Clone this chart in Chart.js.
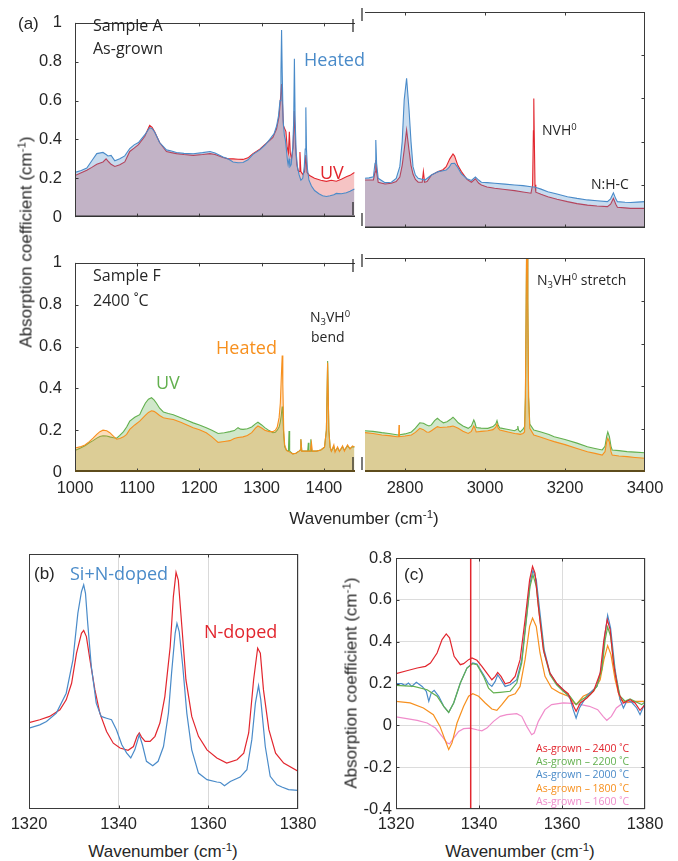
<!DOCTYPE html>
<html><head><meta charset="utf-8">
<script src="https://cdn.jsdelivr.net/npm/chart.js@4.4.1/dist/chart.umd.min.js"></script>
<style>
html,body{margin:0;padding:0;background:#fff}
body{width:678px;height:861px;position:relative;overflow:hidden;font-family:"Liberation Sans",Arial,sans-serif;color:#262626}
canvas{position:absolute}
.t{position:absolute;white-space:nowrap;line-height:1;transform:translateY(-50%)}
.c{transform:translate(-50%,-50%)}
.o{font-family:"Open Sans","Noto Sans",sans-serif}
.sup{font-size:0.68em;position:relative;top:-0.5em}
.sub{font-size:0.68em;position:relative;top:0.3em}
.rot{transform:translate(-50%,-50%) rotate(-90deg)}
</style></head><body>
<script>
// ---------------- tick values ----------------
const xTicksLow = [1000, 1100, 1200, 1300, 1400];
const xTicksHigh = [2800, 3000, 3200, 3400];
const yTicksA = [0, 0.2, 0.4, 0.6, 0.8, 1];
const xTicksBC = [1320, 1340, 1360, 1380];
const yTicksC = [-0.4, -0.2, 0, 0.2, 0.4, 0.6, 0.8];

// ---------------- (a) Sample A, 1000-1450 ----------------
const aLowHeatedWn = [1000,1010,1019,1027,1035,1045,1050,1053,1058,1064,1072,1080,1088,1095,1102,1112,1120,1124,1128,1136,1147,1155,1163,1175,1190,1205,1217,1225,1238,1246,1254,1262,1270,1278,1286,1297,1305,1313,1320,1324,1327,1329.5,1331,1332,1333,1334.5,1336.5,1338,1340,1341.5,1342.5,1344,1345.5,1347.5,1350,1351.5,1352.6,1353.8,1355.5,1357.5,1360,1363,1366,1368.5,1370,1371,1372,1373.5,1376,1380,1385,1392,1398,1404,1410,1416,1420,1428,1436,1442,1449];
const aLowHeated = [0.23,0.24,0.253,0.29,0.327,0.333,0.322,0.315,0.318,0.29,0.30,0.315,0.353,0.372,0.384,0.423,0.461,0.455,0.438,0.384,0.346,0.34,0.333,0.328,0.326,0.332,0.338,0.33,0.31,0.30,0.284,0.28,0.281,0.295,0.323,0.346,0.37,0.40,0.43,0.469,0.52,0.6,0.75,0.963,0.75,0.5,0.42,0.40,0.34,0.29,0.27,0.30,0.26,0.27,0.36,0.5,0.816,0.5,0.33,0.26,0.22,0.19,0.2,0.26,0.35,0.565,0.35,0.25,0.19,0.16,0.137,0.12,0.11,0.106,0.11,0.115,0.122,0.12,0.125,0.133,0.145];
const aLowUVWn = [1000,1010,1019,1027,1035,1045,1050,1054,1058,1064,1072,1080,1088,1095,1102,1112,1120,1124,1128,1136,1147,1155,1163,1175,1190,1205,1217,1225,1238,1246,1254,1262,1270,1278,1286,1297,1305,1313,1318,1324,1328,1330.5,1332,1333.5,1335,1337,1339,1341,1343,1344.5,1346,1348,1350.5,1352.5,1354.5,1356.5,1358.5,1360,1361.5,1363,1366,1369,1371,1373,1377,1385,1395,1404,1412,1420,1428,1436,1442,1449];
const aLowUV = [0.214,0.228,0.241,0.256,0.272,0.284,0.30,0.285,0.272,0.261,0.27,0.284,0.338,0.355,0.373,0.415,0.472,0.462,0.44,0.384,0.338,0.332,0.327,0.322,0.318,0.322,0.327,0.322,0.307,0.30,0.30,0.298,0.297,0.305,0.327,0.35,0.373,0.395,0.41,0.455,0.52,0.62,0.685,0.58,0.47,0.455,0.44,0.36,0.33,0.44,0.33,0.30,0.36,0.546,0.36,0.27,0.24,0.235,0.335,0.235,0.22,0.235,0.32,0.23,0.214,0.2,0.19,0.184,0.19,0.185,0.195,0.208,0.215,0.23];

// ---------------- (a) Sample A, 2700-3400 ----------------
const aHighHeatedWn = [2700,2710,2721,2725,2727,2729,2733,2750,2766,2778,2787,2793,2798,2804,2810,2815,2820,2826,2833,2850,2866,2883,2895,2903,2910,2916,2924,2932,2941,2955,2966,2976,2984,2991,3005,3024,3050,3074,3095,3115,3124,3140,3157,3180,3206,3230,3256,3280,3306,3314,3321,3327,3331,3350,3364,3380,3400];
const aHighHeated = [0.23,0.232,0.237,0.30,0.407,0.30,0.23,0.21,0.212,0.23,0.284,0.4,0.593,0.693,0.55,0.40,0.284,0.245,0.23,0.222,0.245,0.261,0.265,0.268,0.28,0.299,0.30,0.28,0.25,0.228,0.22,0.236,0.222,0.212,0.21,0.207,0.203,0.199,0.196,0.191,0.19,0.18,0.168,0.157,0.145,0.137,0.13,0.126,0.122,0.135,0.163,0.135,0.122,0.119,0.118,0.12,0.122];
const aHighUVWn = [2700,2710,2721,2725,2727,2729,2733,2750,2766,2778,2787,2793,2798,2804,2810,2815,2820,2826,2833,2843,2846,2849,2855,2866,2883,2895,2903,2912,2920,2924,2932,2941,2955,2966,2976,2984,2991,3005,3024,3050,3074,3095,3115,3119,3121,3122,3123,3125,3127,3140,3157,3180,3206,3230,3256,3280,3306,3314,3321,3327,3331,3350,3364,3380,3400];
const aHighUV = [0.222,0.222,0.222,0.26,0.315,0.26,0.212,0.204,0.207,0.215,0.236,0.29,0.361,0.454,0.361,0.29,0.25,0.225,0.212,0.212,0.262,0.212,0.215,0.245,0.261,0.27,0.284,0.32,0.343,0.333,0.29,0.261,0.225,0.212,0.228,0.208,0.199,0.19,0.184,0.178,0.173,0.167,0.161,0.2,0.45,0.60,0.45,0.2,0.166,0.156,0.145,0.133,0.122,0.113,0.106,0.102,0.099,0.11,0.137,0.11,0.096,0.093,0.091,0.091,0.091];

// ---------------- (a) Sample F, 1000-1450 ----------------
const fLowHeatedWn = [1000,1008,1016,1023,1029,1035,1040,1045,1051,1056,1062,1067,1072,1078,1083,1088,1096,1104,1113,1118,1123,1127,1131,1136,1142,1150,1158,1170,1180,1190,1200,1211,1220,1230,1240,1249,1256,1262,1270,1277,1284,1290,1294,1300,1305,1312,1318,1322,1325,1328,1330,1331.5,1333,1334,1335.5,1337,1340,1345,1350,1355,1360,1362,1363,1364.5,1370,1375,1378,1380,1381.5,1388,1395,1401,1404,1406,1408,1410,1412,1416,1418,1422,1425,1430,1433,1438,1442,1446,1449];
const fLowHeated = [0.115,0.12,0.129,0.145,0.162,0.18,0.193,0.2,0.197,0.188,0.17,0.157,0.16,0.168,0.18,0.204,0.225,0.243,0.271,0.285,0.293,0.29,0.282,0.27,0.259,0.255,0.251,0.238,0.225,0.212,0.202,0.188,0.168,0.142,0.146,0.15,0.16,0.165,0.168,0.175,0.188,0.21,0.22,0.21,0.2,0.193,0.193,0.2,0.215,0.26,0.33,0.45,0.557,0.42,0.2,0.13,0.103,0.095,0.087,0.09,0.1,0.105,0.157,0.1,0.1,0.1,0.1,0.14,0.1,0.1,0.105,0.119,0.2,0.523,0.2,0.119,0.10,0.13,0.095,0.12,0.098,0.125,0.10,0.13,0.11,0.125,0.12];
const fLowUVWn = [1000,1008,1016,1023,1029,1035,1040,1045,1051,1056,1062,1067,1072,1078,1083,1088,1096,1104,1108,1113,1118,1123,1127,1131,1136,1142,1150,1158,1170,1180,1190,1200,1211,1220,1230,1240,1249,1256,1262,1266,1270,1277,1284,1290,1294,1300,1305,1312,1318,1322,1325,1328,1330,1331.5,1333,1334,1335.5,1337,1340,1343,1344,1345,1350,1355,1360,1362,1363,1364.5,1370,1374,1375,1376,1378,1379,1380,1388,1395,1401,1404,1406,1408,1410,1412,1416,1418,1422,1425,1430,1433,1438,1442,1446,1449];
const fLowUV = [0.103,0.114,0.126,0.14,0.15,0.162,0.17,0.173,0.172,0.168,0.164,0.162,0.175,0.193,0.215,0.243,0.262,0.274,0.3,0.329,0.348,0.355,0.345,0.329,0.305,0.287,0.28,0.274,0.26,0.247,0.235,0.225,0.212,0.2,0.184,0.188,0.193,0.198,0.212,0.205,0.204,0.207,0.215,0.23,0.238,0.225,0.212,0.198,0.188,0.19,0.2,0.215,0.24,0.27,0.313,0.27,0.17,0.12,0.103,0.1,0.196,0.1,0.087,0.09,0.1,0.105,0.157,0.1,0.1,0.1,0.14,0.1,0.1,0.157,0.1,0.1,0.105,0.119,0.2,0.531,0.2,0.119,0.10,0.12,0.1,0.115,0.1,0.12,0.105,0.125,0.112,0.12,0.12];

// ---------------- (a) Sample F, 2700-3400 ----------------
const fHighHeatedWn = [2700,2720,2742,2760,2780,2784,2785,2786,2800,2816,2826,2837,2846,2854,2860,2866,2874,2881,2888,2896,2905,2913,2920,2926,2933,2945,2958,2966,2972,2975,2978,2990,3007,3020,3027,3030,3033,3037,3055,3074,3082,3088,3095,3099,3101,3103,3105,3107,3109,3112,3122,3140,3160,3173,3200,3230,3256,3275,3293,3300,3304,3307,3311,3315,3318,3335,3355,3375,3400];
const fHighHeated = [0.184,0.18,0.173,0.17,0.165,0.165,0.22,0.165,0.168,0.173,0.185,0.204,0.198,0.187,0.186,0.193,0.203,0.212,0.208,0.209,0.21,0.212,0.215,0.21,0.204,0.19,0.18,0.19,0.215,0.205,0.187,0.19,0.193,0.198,0.21,0.224,0.205,0.196,0.188,0.18,0.178,0.176,0.18,0.187,0.35,0.8,1.3,0.8,0.35,0.204,0.173,0.162,0.15,0.142,0.128,0.11,0.095,0.087,0.079,0.095,0.14,0.157,0.14,0.095,0.079,0.075,0.072,0.068,0.064];
const fHighUVWn = [2700,2720,2742,2760,2783,2800,2816,2826,2837,2846,2854,2860,2866,2874,2881,2888,2896,2905,2913,2920,2926,2933,2945,2958,2966,2972,2975,2978,2990,3007,3020,3027,3030,3033,3037,3055,3074,3080,3082,3084,3088,3095,3099,3101,3103,3105,3107,3109,3112,3122,3140,3160,3173,3200,3230,3256,3275,3293,3300,3304,3307,3311,3315,3318,3335,3355,3375,3400];
const fHighUV = [0.193,0.19,0.184,0.18,0.173,0.178,0.187,0.205,0.23,0.228,0.22,0.215,0.22,0.24,0.251,0.24,0.23,0.235,0.245,0.256,0.245,0.23,0.215,0.204,0.215,0.243,0.23,0.208,0.205,0.204,0.212,0.225,0.24,0.22,0.206,0.2,0.193,0.2,0.215,0.195,0.187,0.2,0.212,0.35,0.8,1.3,0.8,0.35,0.224,0.196,0.187,0.175,0.165,0.152,0.135,0.118,0.11,0.103,0.12,0.165,0.187,0.165,0.12,0.103,0.1,0.095,0.093,0.09];

// ---------------- (b) arbitrary units ----------------
const bNdopedWn = [1320,1322.4,1324.6,1326.9,1328.3,1329.5,1330.6,1331.7,1332.2,1332.8,1333.6,1334.7,1335.8,1337.3,1338.8,1340.3,1342.1,1343.3,1344.1,1344.6,1345.1,1345.9,1347,1348.1,1349.2,1350.3,1351.5,1352.2,1352.8,1353.3,1354.1,1355,1356.3,1357.8,1359.7,1361.9,1364.1,1366.4,1367.9,1369,1370.1,1371,1371.6,1372.3,1373.5,1375,1376.8,1380];
const bNdoped = [0.339,0.35,0.363,0.389,0.428,0.493,0.611,0.689,0.70,0.676,0.585,0.467,0.376,0.304,0.258,0.239,0.23,0.245,0.285,0.298,0.282,0.265,0.265,0.285,0.337,0.441,0.637,0.833,0.928,0.898,0.715,0.507,0.363,0.285,0.232,0.20,0.18,0.193,0.219,0.298,0.507,0.631,0.611,0.467,0.311,0.219,0.18,0.148];
const bSiNWn = [1320,1322.4,1323.9,1326.1,1328.3,1329.8,1330.9,1331.7,1332.2,1332.6,1333.1,1333.9,1335,1336.1,1337.3,1338.4,1339.5,1340.7,1341.8,1342.7,1343.6,1344.6,1345.3,1346.2,1347.6,1348.8,1350,1351.1,1351.8,1352.6,1353,1353.5,1354.3,1355.2,1356.3,1357.8,1359.7,1361.9,1362.7,1363.6,1364.9,1367.1,1368.6,1369.7,1370.5,1371.2,1371.7,1372.7,1373.8,1375.3,1376.4,1377.9,1380];
const bSiN = [0.317,0.33,0.343,0.376,0.454,0.585,0.768,0.852,0.879,0.846,0.728,0.559,0.415,0.363,0.356,0.35,0.311,0.252,0.219,0.20,0.232,0.291,0.252,0.187,0.17,0.187,0.245,0.376,0.533,0.689,0.728,0.696,0.559,0.376,0.232,0.141,0.115,0.106,0.104,0.091,0.108,0.125,0.154,0.272,0.415,0.484,0.428,0.245,0.128,0.095,0.086,0.076,0.073];

// ---------------- (c) As-grown minus annealed ----------------
const c2400Wn = [1320,1322.6,1325.1,1327.1,1328.3,1329.9,1331.1,1332.1,1332.9,1334,1335.5,1336.3,1337.5,1338.3,1339.5,1340.7,1341.9,1343.1,1343.9,1344.5,1345.3,1346.3,1347.5,1348.7,1349.9,1351.1,1352.2,1352.9,1353.5,1354.3,1355.5,1357.1,1358.7,1360.3,1361.5,1362.8,1363.4,1364.4,1366,1367.6,1369.2,1370.1,1370.9,1371.6,1372.4,1373.6,1374.8,1376.4,1377.6,1378.8,1380];
const c2400 = [0.247,0.261,0.274,0.282,0.298,0.346,0.41,0.437,0.418,0.33,0.29,0.295,0.314,0.322,0.311,0.282,0.25,0.218,0.234,0.253,0.234,0.199,0.206,0.234,0.314,0.505,0.696,0.76,0.728,0.569,0.362,0.25,0.202,0.17,0.151,0.091,0.067,0.107,0.131,0.163,0.25,0.41,0.505,0.458,0.298,0.155,0.107,0.123,0.107,0.072,0.099];
const c2200Wn = [1320,1324.3,1327.5,1329.9,1331.5,1332.7,1333.9,1335.5,1337.1,1338.5,1339.5,1341.1,1342.3,1343.5,1345.1,1347.5,1349.1,1350.3,1351.5,1352.3,1353,1353.8,1354.6,1355.7,1357.1,1358.7,1360.3,1361.9,1363.4,1364.8,1366.8,1368.4,1369.6,1370.4,1371,1371.7,1372.8,1374,1375.2,1376.4,1378,1379.2,1380];
const c2200 = [0.191,0.186,0.17,0.139,0.091,0.062,0.107,0.202,0.274,0.295,0.29,0.234,0.178,0.155,0.158,0.163,0.202,0.298,0.521,0.665,0.72,0.665,0.521,0.346,0.242,0.194,0.163,0.139,0.099,0.123,0.147,0.186,0.266,0.41,0.47,0.426,0.25,0.139,0.115,0.126,0.11,0.099,0.112];
const c2000Wn = [1320,1321.4,1322.2,1323,1323.8,1324.9,1326.3,1327.3,1327.9,1328.5,1329.2,1330.3,1331.5,1332.7,1333.9,1335.5,1337.1,1338.5,1339.5,1341.1,1342.3,1343.1,1343.9,1344.5,1345.3,1346.3,1347.5,1349.1,1350.3,1351.5,1352.3,1353,1353.8,1354.6,1355.7,1357.1,1358.7,1360.3,1361.9,1362.7,1363.4,1364.2,1366,1368.4,1369.6,1370.4,1371,1371.7,1372.8,1374,1374.8,1375.7,1376.8,1378,1378.8,1380];
const c2000 = [0.199,0.199,0.19,0.202,0.186,0.206,0.186,0.163,0.115,0.155,0.167,0.139,0.091,0.062,0.107,0.202,0.274,0.298,0.293,0.242,0.199,0.186,0.21,0.242,0.218,0.186,0.194,0.218,0.314,0.529,0.68,0.741,0.696,0.553,0.362,0.25,0.199,0.17,0.131,0.075,0.035,0.083,0.142,0.186,0.282,0.441,0.526,0.466,0.266,0.123,0.083,0.12,0.11,0.083,0.051,0.107];
const c1800Wn = [1320,1323.4,1326.6,1329,1330.6,1331.8,1332.7,1333.5,1334.7,1336.3,1337.5,1338.5,1339.9,1341.5,1343.1,1344.3,1345.5,1347.1,1348.7,1349.9,1351.1,1352.2,1352.9,1353.8,1354.7,1355.9,1357.5,1359.5,1361.5,1363.4,1365.1,1367.6,1369.2,1370.1,1371,1371.8,1372.8,1374,1375.6,1377.6,1380];
const c1800 = [0.115,0.107,0.083,0.051,-0.005,-0.069,-0.116,-0.084,0.011,0.091,0.139,0.151,0.139,0.107,0.078,0.072,0.099,0.139,0.151,0.186,0.314,0.473,0.513,0.473,0.346,0.234,0.178,0.155,0.139,0.099,0.139,0.163,0.218,0.314,0.381,0.338,0.218,0.123,0.11,0.115,0.115];
const c1600Wn = [1320,1322.6,1325.1,1327.5,1329.5,1331.1,1332.3,1332.9,1333.9,1335.1,1336.3,1337.9,1339.5,1340.7,1341.9,1343.5,1345.1,1346.7,1349.1,1350.3,1351.5,1352.7,1353.3,1354.3,1355.9,1357.5,1360.3,1363.4,1366.6,1368.6,1369.9,1370.8,1371.9,1373.1,1374.7,1376.4,1380];
const c1600 = [0.04,0.032,0.024,0.011,-0.013,-0.053,-0.084,-0.088,-0.061,-0.029,-0.016,-0.013,-0.021,-0.026,-0.013,0.019,0.043,0.051,0.056,0.043,-0.005,-0.045,-0.037,0.019,0.075,0.099,0.107,0.104,0.091,0.075,0.043,0.024,0.043,0.083,0.107,0.11,0.115];
const cMarkerWn = 1338;
const cLegend = ['As-grown – 2400 ˚C','As-grown – 2200 ˚C','As-grown – 2000 ˚C','As-grown – 1800 ˚C','As-grown – 1600 ˚C'];

// ---------------- colours ----------------
const BLUE = '#4a8bc9', RED = '#e2262e', GREEN = '#63b04f', ORANGE = '#f7901e', PINK = '#f08ccb';
const TXT = '#262626';
const FONT = '"Liberation Sans", Arial, sans-serif';

const pts = (wn, v) => wn.map((w, i) => ({x: w, y: v[i]}));

// frame / inward-tick / axis-break plugin
const framePlugin = {
  id: 'frame',
  afterDatasetsDraw(chart, _a, o) {
    if (!o || !o.sides) return;
    const {ctx, chartArea: a, scales} = chart;
    const xs = scales.x, ys = scales.y;
    const L = 3.5, col = o.color || '#3a3a3a';
    const l = Math.round(a.left) + 0.5, r = Math.round(a.right) - 0.5;
    const t = Math.round(a.top) + 0.5;
    ctx.save();
    ctx.strokeStyle = col; ctx.lineWidth = 1;
    ctx.beginPath();
    if (o.sides.includes('t')) { ctx.moveTo(a.left, t); ctx.lineTo(a.right, t); }
    if (o.sides.includes('l')) { ctx.moveTo(l, a.top); ctx.lineTo(l, a.bottom); }
    if (o.sides.includes('r')) { ctx.moveTo(r, a.top); ctx.lineTo(r, a.bottom); }
    xs.ticks.forEach(tk => {
      const p = Math.round(xs.getPixelForValue(tk.value)) + 0.5;
      if (p < a.left + 2 || p > a.right - 2) return;
      if (o.xt.includes('b')) { ctx.moveTo(p, a.bottom); ctx.lineTo(p, a.bottom - L); }
      if (o.xt.includes('t')) { ctx.moveTo(p, a.top); ctx.lineTo(p, a.top + L); }
    });
    ys.ticks.forEach(tk => {
      const p = Math.round(ys.getPixelForValue(tk.value)) + 0.5;
      if (p < a.top + 2 || p > a.bottom - 2) return;
      if (o.yt.includes('l')) { ctx.moveTo(a.left, p); ctx.lineTo(a.left + L, p); }
      if (o.yt.includes('r')) { ctx.moveTo(a.right, p); ctx.lineTo(a.right - L, p); }
    });
    ctx.stroke();
    if (o.sides.includes('b')) {
      ctx.beginPath();
      ctx.strokeStyle = o.bottomColor || col; ctx.lineWidth = o.bottomWidth || 1;
      const yb = a.bottom - (o.bottomWidth || 1) / 2;
      ctx.moveTo(a.left, yb); ctx.lineTo(a.right, yb); ctx.stroke();
    }
    if (o.brk) {
      ctx.beginPath(); ctx.strokeStyle = '#222'; ctx.lineWidth = 1.2;
      const xb = o.brk === 'r' ? a.right - 2 : a.left - 3;
      ctx.moveTo(xb, a.top - 4); ctx.lineTo(xb, a.top + 9);
      ctx.moveTo(xb, a.bottom - 15); ctx.lineTo(xb, a.bottom - 2);
      ctx.stroke();
    }
    ctx.restore();
  }
};
Chart.register(framePlugin);

const fmt = v => String(Math.round(v * 100) / 100);

function makeChart(o) {
  const c = document.createElement('canvas');
  c.width = o.box.w; c.height = o.box.h;
  c.style.left = o.box.x + 'px'; c.style.top = o.box.y + 'px';
  c.style.width = o.box.w + 'px'; c.style.height = o.box.h + 'px';
  document.body.appendChild(c);
  const padTop = o.area.t - o.box.y;
  const padRight = o.box.x + o.box.w - o.area.r;
  const yW = o.area.l - o.box.x;
  const xH = o.box.y + o.box.h - o.area.b;
  return new Chart(c, {
    type: 'line',
    data: {datasets: o.datasets},
    options: {
      responsive: false, animation: false, devicePixelRatio: 1,
      layout: {padding: {top: padTop, right: padRight, left: 0, bottom: 0}},
      plugins: {legend: {display: false}, tooltip: {enabled: false}, frame: o.frame},
      elements: {point: {radius: 0}, line: {tension: 0, borderWidth: 1.2}},
      scales: {
        x: {
          type: 'linear', min: o.xMin, max: o.xMax,
          afterBuildTicks: s => { s.ticks = o.xTicks.map(v => ({value: v})); },
          afterFit: s => { s.height = xH; },
          grid: {display: !!o.xGrid, color: o.xGrid || 'rgba(0,0,0,0)', drawTicks: false, lineWidth: 1},
          border: {display: false},
          ticks: {display: !!o.xLabels, padding: o.xPad || 7, color: TXT, font: {family: FONT, size: 16.5}, maxRotation: 0, autoSkip: false, callback: fmt}
        },
        y: {
          type: 'linear', min: o.yMin, max: o.yMax,
          afterBuildTicks: s => { s.ticks = o.yTicks.map(v => ({value: v})); },
          afterFit: s => { s.width = yW; },
          grid: {display: !!o.yGrid, color: o.yGrid || 'rgba(0,0,0,0)', drawTicks: false, lineWidth: 1},
          border: {display: false},
          ticks: {display: !!o.yLabels, padding: o.yPad || 12, color: TXT, font: {family: FONT, size: 16.5}, callback: fmt}
        }
      }
    }
  });
}

const fillDs = (wn, v, line, fillCol) => ({data: pts(wn, v), borderColor: line, backgroundColor: fillCol, fill: 'origin', borderWidth: 1.1});

// (a) top-left
makeChart({box: {x: 0, y: 0, w: 360, h: 240}, area: {l: 75, t: 12, r: 355, b: 228},
  xMin: 1000, xMax: 1450, yMin: 0, yMax: 1, xTicks: xTicksLow, yTicks: yTicksA, yLabels: true, yPad: 13,
  frame: {sides: 'ltb', xt: 'tb', yt: 'l', brk: 'r', bottomColor: '#333', bottomWidth: 1.5},
  datasets: [fillDs(aLowHeatedWn, aLowHeated, BLUE, 'rgba(74,139,201,0.3)'),
             fillDs(aLowUVWn, aLowUV, RED, 'rgba(226,60,60,0.3)')]});
// (a) top-right
makeChart({box: {x: 360, y: 0, w: 318, h: 240}, area: {l: 365, t: 12, r: 645, b: 228},
  xMin: 2700, xMax: 3400, yMin: 0, yMax: 1, xTicks: xTicksHigh, yTicks: yTicksA,
  frame: {sides: 'rtb', xt: 'tb', yt: 'r', brk: 'l', bottomColor: '#333', bottomWidth: 1.5},
  datasets: [fillDs(aHighHeatedWn, aHighHeated, BLUE, 'rgba(74,139,201,0.3)'),
             fillDs(aHighUVWn, aHighUV, RED, 'rgba(226,60,60,0.3)')]});
// (a) bottom-left
makeChart({box: {x: 0, y: 240, w: 360, h: 270}, area: {l: 75, t: 258, r: 355, b: 472},
  xMin: 1000, xMax: 1450, yMin: 0, yMax: 1, xTicks: xTicksLow, yTicks: yTicksA, yLabels: true, yPad: 13, xLabels: true, xPad: 7,
  frame: {sides: 'ltb', xt: 'tb', yt: 'l', brk: 'r', bottomColor: '#5e4c1c', bottomWidth: 2},
  datasets: [fillDs(fLowHeatedWn, fLowHeated, ORANGE, 'rgba(247,144,30,0.3)'),
             fillDs(fLowUVWn, fLowUV, GREEN, 'rgba(99,176,79,0.3)')]});
// (a) bottom-right
makeChart({box: {x: 360, y: 240, w: 318, h: 270}, area: {l: 365, t: 258, r: 645, b: 472},
  xMin: 2700, xMax: 3400, yMin: 0, yMax: 1, xTicks: xTicksHigh, yTicks: yTicksA, xLabels: true, xPad: 7,
  frame: {sides: 'rtb', xt: 'tb', yt: 'r', brk: 'l', bottomColor: '#5e4c1c', bottomWidth: 2},
  datasets: [fillDs(fHighHeatedWn, fHighHeated, ORANGE, 'rgba(247,144,30,0.3)'),
             fillDs(fHighUVWn, fHighUV, GREEN, 'rgba(99,176,79,0.3)')]});
// (b)
makeChart({box: {x: 0, y: 540, w: 330, h: 300}, area: {l: 29, t: 554, r: 298, b: 809},
  xMin: 1320, xMax: 1380, yMin: 0, yMax: 1, xTicks: xTicksBC, yTicks: [], xLabels: true, xPad: 6, xGrid: '#d9d9d9',
  frame: {sides: 'ltrb', xt: 'tb', yt: ''},
  datasets: [{data: pts(bSiNWn, bSiN), borderColor: BLUE, borderWidth: 1.2, fill: false},
             {data: pts(bNdopedWn, bNdoped), borderColor: RED, borderWidth: 1.2, fill: false}]});
// (c)
makeChart({box: {x: 330, y: 540, w: 348, h: 300}, area: {l: 396, t: 558, r: 645, b: 809},
  xMin: 1320, xMax: 1380, yMin: -0.4, yMax: 0.8, xTicks: xTicksBC, yTicks: yTicksC, xLabels: true, yLabels: true, xPad: 6, yPad: 4,
  xGrid: '#dcdcdc', yGrid: '#dcdcdc',
  frame: {sides: 'ltrb', xt: 'tb', yt: 'lr'},
  datasets: [{data: [{x: cMarkerWn, y: -0.4}, {x: cMarkerWn, y: 0.8}], borderColor: RED, borderWidth: 1.5, fill: false},
             {data: pts(c2400Wn, c2400), borderColor: RED, borderWidth: 1.2, fill: false},
             {data: pts(c2200Wn, c2200), borderColor: GREEN, borderWidth: 1.2, fill: false},
             {data: pts(c2000Wn, c2000), borderColor: BLUE, borderWidth: 1.2, fill: false},
             {data: pts(c1800Wn, c1800), borderColor: ORANGE, borderWidth: 1.2, fill: false},
             {data: pts(c1600Wn, c1600), borderColor: PINK, borderWidth: 1.2, fill: false}]});

// ---------------- text ----------------
function txt(html, x, y, css, cls) {
  const d = document.createElement('div');
  d.className = 't ' + (cls || '');
  d.innerHTML = html;
  d.style.left = x + 'px'; d.style.top = y + 'px';
  if (css) d.style.cssText += css;
  document.body.appendChild(d);
}
const CM = '(cm<span class="sup">-1</span>)';
txt('(a)', 18, 23, 'font-size:17px');
txt('Sample A', 93, 25, 'font-size:16px', 'o');
txt('As-grown', 93, 48, 'font-size:16px', 'o');
txt('Heated', 304, 59, 'font-size:18px;color:' + BLUE, 'o');
txt('UV', 320, 172, 'font-size:18px;color:' + RED, 'o');
txt('NVH<span class="sup">0</span>', 542, 130, 'font-size:14px', 'o');
txt('N:H-C', 591, 184, 'font-size:14px', 'o');
txt('Sample F', 93, 275, 'font-size:16px', 'o');
txt('2400 ˚C', 93, 300, 'font-size:16px', 'o');
txt('N<span class="sub">3</span>VH<span class="sup">0</span>', 310, 317, 'font-size:14px', 'o');
txt('bend', 311, 337, 'font-size:14px', 'o');
txt('Heated', 216, 347, 'font-size:18px;color:' + ORANGE, 'o');
txt('UV', 156, 382, 'font-size:18px;color:' + GREEN, 'o');
txt('N<span class="sub">3</span>VH<span class="sup">0</span> stretch', 537, 280, 'font-size:14px', 'o');
txt('Absorption coefficient ' + CM, 26, 242, 'font-size:17px', 'rot');
txt('Wavenumber ' + CM, 364, 518, 'font-size:17px', 'c');
txt('(b)', 34, 573, 'font-size:17px');
txt('Si+N-doped', 70, 573, 'font-size:18px;color:' + BLUE, 'o');
txt('N-doped', 204, 631, 'font-size:18px;color:' + RED, 'o');
txt('Wavenumber ' + CM, 163, 851, 'font-size:17px', 'c');
txt('(c)', 404, 574, 'font-size:17px');
txt('Absorption coefficient ' + CM, 351, 683, 'font-size:17px', 'rot');
txt('Wavenumber ' + CM, 520, 851, 'font-size:17px', 'c');
const legCols = [RED, GREEN, BLUE, ORANGE, PINK];
const legY = [748, 761, 774, 788, 801];
cLegend.forEach((s, i) => txt(s, 536, legY[i], 'font-size:10.5px;color:' + legCols[i], 'o'));
</script>
</body></html>
